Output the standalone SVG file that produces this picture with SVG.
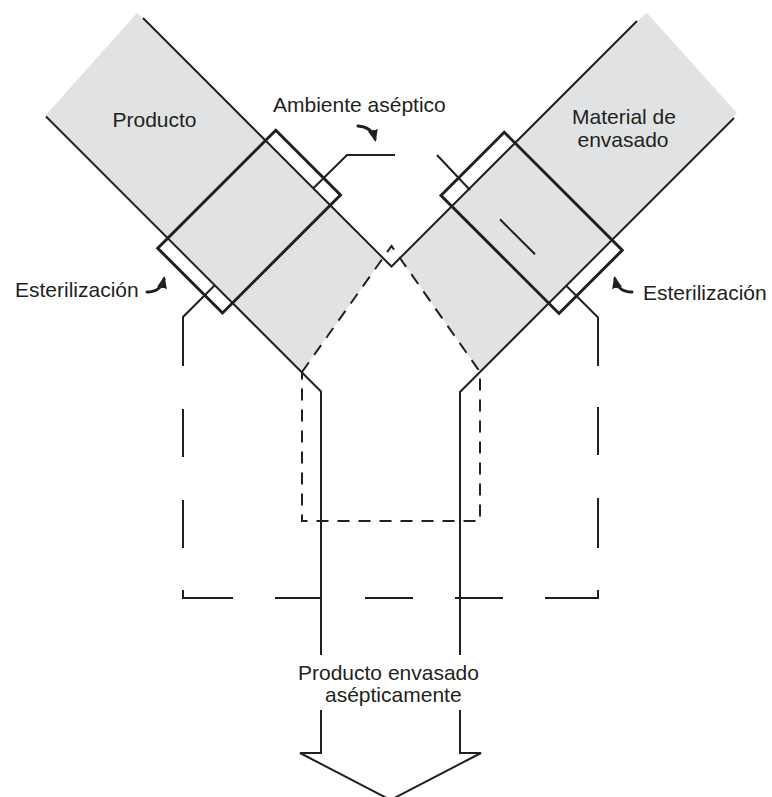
<svg xmlns="http://www.w3.org/2000/svg" width="772" height="797" viewBox="0 0 772 797">
  <defs>
    <marker id="head" viewBox="0 0 12 10" refX="9" refY="5" markerWidth="12" markerHeight="10" markerUnits="userSpaceOnUse" orient="auto">
      <path d="M0,0 L12,5 L0,10 z" fill="#231f20"/>
    </marker>
  </defs>
  <style>
    .gray { fill: #e1e2e3; stroke: none; }
    .thin { fill: none; stroke: #231f20; stroke-width: 2; stroke-linejoin: miter; }
    .box { fill: none; stroke: #231f20; stroke-width: 3; stroke-linejoin: miter; }
    .dash-long { fill: none; stroke: #231f20; stroke-width: 2; }
    .dash-short { fill: none; stroke: #231f20; stroke-width: 2; stroke-dasharray: 12 9; }
    .curve { fill: none; stroke: #231f20; stroke-width: 3; stroke-linecap: round; marker-end: url(#head); }
    .label { font-family: "Liberation Sans", Arial, sans-serif; font-size: 21px; fill: #231f20; }
  </style>
  <rect width="772" height="797" fill="#ffffff"/>

  <g id="producto-arm">
    <polygon class="gray" points="137,13 45,116 302,372 383,258 143,18"/>
  </g>
  <g id="material-arm">
    <polygon class="gray" points="647,13 737,113 480,372 400,258 637,21"/>
  </g>

  <g id="aseptic-zone">
    <path class="dash-short" d="M302,372 L391.5,246 L480,372 L480,521 L302,521 Z"/>
  </g>

  <g id="sterile-enclosure">
    <path class="dash-long" d="M214.75,285.25 L183,317 L183,366 M183,409 V457 M183,500 V548 M183,590 V598 H233 M275,598 H322 M365,598 H413 M455,598 H503 M545,598 H598 V590 M598,548 V498 M598,455 V407 M598,366 V317.5 L566.25,285.75"/>
  </g>

  <g id="walls">
    <path class="thin" d="M143,18 L391.5,266.5 L637,21"/>
    <path class="thin" d="M46,116.5 L302,372.5 L321,391.5 L321,655 M321,710 L321,753 L300,753 L390.5,800 L481,753 L460,753 L460,710 M460,655 L460,392 L481,371 L734,118"/>
  </g>

  <g id="left-sterilization-box">
    <polygon class="box" points="275.75,130.25 340.5,195 222.5,313 157.75,248.25"/>
  </g>
  <g id="right-sterilization-box">
    <polygon class="box" points="504.25,132.25 622.25,250.25 559,313.5 441,195.5"/>
    <path class="thin" d="M500,219.3 L535,254.3"/>
  </g>

  <g id="connectors">
    <path class="thin" d="M313.3,188.3 L347,155 L395,155"/>
    <path class="thin" d="M437,155 L470,190"/>
    <path class="curve" d="M358,126 Q372,127 375,139"/>
    <path class="curve" d="M147,292 Q161,292 164,279"/>
    <path class="curve" d="M632,292 Q618,292 615,279"/>
  </g>

  <g id="labels">
    <text class="label" x="112.5" y="127">Producto</text>
    <text class="label" x="273" y="112">Ambiente aséptico</text>
    <text class="label" x="624" y="124" text-anchor="middle">Material de</text>
    <text class="label" x="623" y="147" text-anchor="middle">envasado</text>
    <text class="label" x="15" y="297">Esterilización</text>
    <text class="label" x="643" y="300">Esterilización</text>
    <text class="label" x="298" y="680">Producto envasado</text>
    <text class="label" x="325" y="702">asépticamente</text>
  </g>
</svg>
